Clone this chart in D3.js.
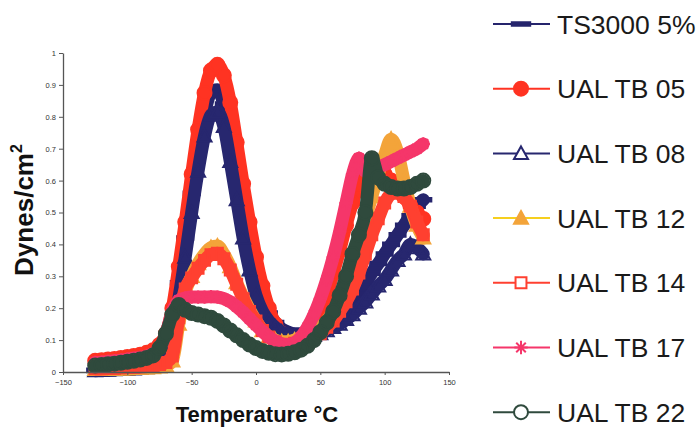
<!DOCTYPE html>
<html>
<head>
<meta charset="utf-8">
<script src="https://cdn.jsdelivr.net/npm/d3@7"></script>
<style>
  html, body { margin: 0; padding: 0; background: #ffffff; }
  svg { display: block; font-family: "Liberation Sans", Arial, sans-serif; }
</style>
</head>
<body>
<svg id="chart" width="696" height="427"></svg>
<script>
// Temperature sweep (°C) shared by every sample
const temps = [-125, -120, -115, -110, -105, -100, -95, -90, -85, -80, -75, -70, -65, -60, -55, -50,
  -45, -40, -35, -30, -25, -20, -15, -10, -5, 0, 5, 10, 15, 20, 25, 30, 35, 40, 45, 50, 55, 60,
  65, 70, 75, 80, 85, 90, 95, 100, 105, 110, 115, 120, 125, 130];

// Loss response (Dynes/cm²) per sample
const ts3000 = [0.005, 0.006, 0.007, 0.008, 0.009, 0.01, 0.012, 0.014, 0.017, 0.022, 0.035, 0.07, 0.15, 0.28, 0.42, 0.56,
  0.70, 0.81, 0.875, 0.885, 0.84, 0.74, 0.62, 0.50, 0.39, 0.30, 0.23, 0.185, 0.155, 0.135, 0.125, 0.12, 0.12, 0.125, 0.13, 0.14, 0.15, 0.16,
  0.18, 0.20, 0.22, 0.25, 0.28, 0.31, 0.34, 0.37, 0.40, 0.43, 0.46, 0.49, 0.52, 0.54];
const ualTb05 = [0.035, 0.037, 0.039, 0.041, 0.044, 0.047, 0.05, 0.054, 0.06, 0.068, 0.085, 0.12, 0.20, 0.33, 0.47, 0.62,
  0.76, 0.875, 0.945, 0.963, 0.93, 0.845, 0.72, 0.59, 0.47, 0.36, 0.27, 0.20, 0.15, 0.12, 0.10, 0.095, 0.10, 0.12, 0.15, 0.19, 0.24, 0.31,
  0.38, 0.46, 0.53, 0.59, 0.62, 0.63, 0.63, 0.62, 0.60, 0.58, 0.55, 0.52, 0.50, 0.48];
const ualTb08 = [0.004, 0.005, 0.006, 0.007, 0.008, 0.009, 0.01, 0.012, 0.014, 0.018, 0.03, 0.06, 0.12, 0.23, 0.36, 0.50,
  0.63, 0.74, 0.805, 0.815, 0.77, 0.66, 0.54, 0.42, 0.32, 0.24, 0.19, 0.16, 0.14, 0.125, 0.117, 0.112, 0.11, 0.11, 0.115, 0.12, 0.13, 0.14,
  0.15, 0.165, 0.18, 0.20, 0.22, 0.245, 0.27, 0.29, 0.32, 0.35, 0.37, 0.40, 0.39, 0.37];
const ualTb12 = [0.008, 0.008, 0.009, 0.009, 0.01, 0.01, 0.011, 0.012, 0.013, 0.014, 0.016, 0.02, 0.035, 0.15, 0.25, 0.30,
  0.34, 0.37, 0.39, 0.395, 0.37, 0.33, 0.28, 0.235, 0.195, 0.16, 0.13, 0.11, 0.10, 0.095, 0.095, 0.10, 0.105, 0.11, 0.12, 0.14, 0.16, 0.19,
  0.23, 0.28, 0.34, 0.41, 0.48, 0.55, 0.62, 0.68, 0.73, 0.69, 0.60, 0.52, 0.46, 0.42];
const ualTb14 = [0.01, 0.01, 0.011, 0.012, 0.013, 0.014, 0.015, 0.016, 0.018, 0.02, 0.023, 0.03, 0.05, 0.17, 0.26, 0.295,
  0.325, 0.35, 0.368, 0.372, 0.355, 0.32, 0.275, 0.23, 0.19, 0.16, 0.13, 0.11, 0.095, 0.087, 0.085, 0.09, 0.095, 0.10, 0.11, 0.12, 0.14, 0.16,
  0.19, 0.22, 0.26, 0.31, 0.37, 0.43, 0.48, 0.53, 0.56, 0.57, 0.55, 0.52, 0.47, 0.43];
const ualTb17 = [0.03, 0.031, 0.033, 0.035, 0.037, 0.04, 0.043, 0.046, 0.05, 0.058, 0.075, 0.12, 0.19, 0.225, 0.232, 0.235,
  0.235, 0.235, 0.236, 0.235, 0.23, 0.22, 0.205, 0.187, 0.167, 0.147, 0.127, 0.11, 0.097, 0.088, 0.086, 0.092, 0.11, 0.14, 0.18, 0.23, 0.29, 0.36,
  0.44, 0.53, 0.62, 0.67, 0.63, 0.63, 0.64, 0.65, 0.66, 0.67, 0.68, 0.69, 0.70, 0.715];
const ualTb22 = [0.02, 0.022, 0.024, 0.026, 0.029, 0.032, 0.035, 0.039, 0.044, 0.052, 0.075, 0.12, 0.18, 0.21, 0.195, 0.185,
  0.18, 0.175, 0.17, 0.16, 0.146, 0.13, 0.115, 0.10, 0.086, 0.075, 0.066, 0.06, 0.056, 0.055, 0.057, 0.062, 0.07, 0.082, 0.10, 0.125, 0.155, 0.19,
  0.24, 0.30, 0.37, 0.43, 0.50, 0.67, 0.61, 0.59, 0.58, 0.575, 0.575, 0.58, 0.59, 0.60];

const seriesNames = ["TS3000 5%", "UAL TB 05", "UAL TB 08", "UAL TB 12", "UAL TB 14", "UAL TB 17", "UAL TB 22"];
const seriesValues = [ts3000, ualTb05, ualTb08, ualTb12, ualTb14, ualTb17, ualTb22];

const xTicks = [-150, -100, -50, 0, 50, 100, 150];
const yTicks = [0, 0.1, 0.2, 0.3, 0.4, 0.5, 0.6, 0.7, 0.8, 0.9, 1];

// Visual style per sample: trace colour, marker colour, marker shape, fill
const styles = [
  { line: "#25246c", mark: "#25246c", shape: "dash", filled: true },
  { line: "#ff3322", mark: "#ff3322", shape: "circle", filled: true },
  { line: "#27276f", mark: "#27276f", shape: "triangle", filled: false },
  { line: "#f6cf1e", mark: "#f3a43a", shape: "triangle", filled: true },
  { line: "#ff4030", mark: "#ff4030", shape: "square", filled: false },
  { line: "#f5366a", mark: "#f5366a", shape: "asterisk", filled: false },
  { line: "#2f4a3d", mark: "#2f4a3d", shape: "circle", filled: false }
];

function markerPath(shape, s) {
  const h = s / 2;
  switch (shape) {
    case "dash": return `M${-h * 1.15},-1.8H${h * 1.15}V1.8H${-h * 1.15}Z`;
    case "circle": return d3.symbol(d3.symbolCircle, Math.PI * h * h)();
    case "triangle": return `M0,${-h}L${h},${h * 0.8}L${-h},${h * 0.8}Z`;
    case "square": { const q = h * 0.78; return `M${-q},${-q}H${q}V${q}H${-q}Z`; }
    case "asterisk": {
      const a = h * 0.95, b = a * 0.72;
      return `M0,${-a}V${a}M${-b},${-b}L${b},${b}M${-b},${b}L${b},${-b}M${-a},0H${a}`;
    }
  }
}

const svg = d3.select("#chart");
const x = d3.scaleLinear().domain([-150, 150]).range([63, 449]);
const y = d3.scaleLinear().domain([0, 1]).range([372, 53]);

// Traces: a wide stroke through the readings, with each reading's marker on top
const plot = svg.append("g");
const line = d3.line().x(d => x(d[0])).y(d => y(d[1])).curve(d3.curveMonotoneX);
seriesValues.forEach((vals, i) => {
  const st = styles[i];
  const pts = temps.map((t, k) => [t, vals[k]]);
  const g = plot.append("g").attr("class", "series");
  g.append("path").datum(pts)
    .attr("d", line)
    .attr("fill", "none")
    .attr("stroke", st.mark)
    .attr("stroke-width", 13)
    .attr("stroke-linejoin", "round")
    .attr("stroke-linecap", "round");
  g.selectAll("path.mk").data(pts).join("path")
    .attr("class", "mk")
    .attr("transform", d => `translate(${x(d[0])},${y(d[1])})`)
    .attr("d", markerPath(st.shape, 14))
    .attr("fill", st.filled ? st.mark : "none")
    .attr("stroke", st.mark)
    .attr("stroke-width", 2);
});

// Axes
const fmt = d => d3.format("~g")(d);
const yAxis = svg.append("g").attr("transform", "translate(63,0)")
  .call(d3.axisLeft(y).tickValues(yTicks).tickFormat(fmt).tickSize(4).tickSizeOuter(0).tickPadding(3));
const xAxis = svg.append("g").attr("transform", "translate(0,372)")
  .call(d3.axisBottom(x).tickValues(xTicks).tickFormat(fmt).tickSize(3).tickSizeOuter(0).tickPadding(5));
[yAxis, xAxis].forEach(a => {
  a.select(".domain").attr("stroke", "#555").attr("stroke-width", 1.3);
  a.selectAll(".tick line").attr("stroke", "#555");
  a.selectAll(".tick text").attr("fill", "#333").style("font-size", "7.5px")
    .style("font-family", "'Liberation Sans', Arial, sans-serif");
});

// Axis titles
svg.append("text")
  .attr("x", 257).attr("y", 422)
  .attr("text-anchor", "middle")
  .style("font-size", "22px").style("font-weight", "bold").attr("fill", "#111")
  .text("Temperature °C");
const yt = svg.append("text")
  .attr("transform", "translate(33,210) rotate(-90)")
  .attr("text-anchor", "middle")
  .style("font-size", "26px").style("font-weight", "bold").attr("fill", "#111");
yt.append("tspan").text("Dynes/cm");
yt.append("tspan").attr("dy", -11).style("font-size", "16px").text("2");

// Legend
const legend = svg.append("g");
seriesNames.forEach((name, i) => {
  const st = styles[i];
  const ly = 24 + i * 64.7;
  const g = legend.append("g").attr("transform", `translate(0,${ly})`);
  g.append("line").attr("x1", 493).attr("x2", 550).attr("y1", 0).attr("y2", 0)
    .attr("stroke", st.line).attr("stroke-width", 2);
  g.append("path").attr("transform", "translate(521,0)")
    .attr("d", markerPath(st.shape, st.shape === "dash" ? 16 : 14))
    .attr("fill", st.filled ? st.mark : "#fff")
    .attr("stroke", st.mark).attr("stroke-width", 2);
  g.append("text").attr("x", 557).attr("y", 9.5)
    .style("font-size", "26.5px").attr("fill", "#1a1a1a")
    .text(name);
});
</script>
</body>
</html>
